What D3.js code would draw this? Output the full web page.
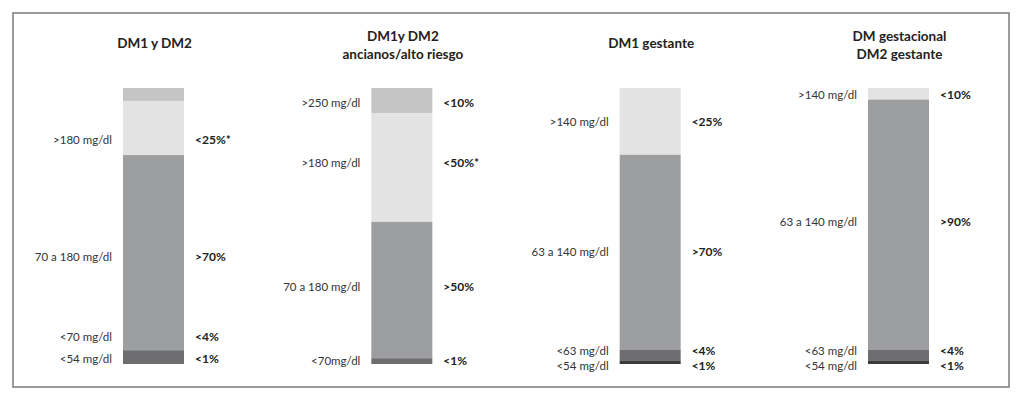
<!DOCTYPE html>
<html><head><meta charset="utf-8">
<script src="https://cdn.jsdelivr.net/npm/d3@7"></script>
<style>
html,body{margin:0;padding:0;background:#fff;}
svg{display:block;}
</style>
</head><body>
<svg id="c" width="1024" height="400"></svg>
<script>
// ---- data ----
const panelTitles = [
  ["DM1 y DM2"],
  ["DM1y DM2", "ancianos/alto riesgo"],
  ["DM1 gestante"],
  ["DM gestacional", "DM2 gestante"]
];
const segmentBands = [
  ["muyAlto", "alto", "rango", "bajo"],
  ["muyAlto", "alto", "rango", "bajo"],
  ["alto", "rango", "bajo", "muyBajo"],
  ["alto", "rango", "bajo", "muyBajo"]
];
const segmentValues = [
  [4.7, 19.6, 70.7, 5.0],
  [9.2, 39.3, 49.4, 2.1],
  [24.2, 70.7, 3.8, 1.3],
  [4.2, 90.7, 3.8, 1.3]
];
const leftLabels = [
  [">180 mg/dl", "70 a 180 mg/dl", "<70 mg/dl", "<54 mg/dl"],
  [">250 mg/dl", ">180 mg/dl", "70 a 180 mg/dl", "<70mg/dl"],
  [">140 mg/dl", "63 a 140 mg/dl", "<63 mg/dl", "<54 mg/dl"],
  [">140 mg/dl", "63 a 140 mg/dl", "<63 mg/dl", "<54 mg/dl"]
];
const rightLabels = [
  ["<25%*", ">70%", "<4%", "<1%"],
  ["<10%", "<50%*", ">50%", "<1%"],
  ["<25%", ">70%", "<4%", "<1%"],
  ["<10%", ">90%", "<4%", "<1%"]
];
// where each label row sits on the bar's 0-100 % scale
const labelPct = [
  [18.8, 61.2, 90.2, 98.2],
  [5.4, 27.2, 72.1, 98.9],
  [12.3, 59.4, 95.3, 100.7],
  [2.5, 48.6, 95.3, 100.7]
];
const bandNames = ["muyAlto", "alto", "rango", "bajo", "muyBajo"];
const bandColors = ["#c5c5c6", "#e3e3e3", "#9d9ea0", "#6e6e70", "#3b3b3d"];

// ---- drawing ----
const svg = d3.select("#c");
const font = "Lato, 'Open Sans', sans-serif";

svg.append("rect")
  .attr("x", 13).attr("y", 13).attr("width", 996).attr("height", 374)
  .attr("fill", "none").attr("stroke", "#7a7a7a").attr("stroke-width", 1.5);

const idx = d3.range(panelTitles.length);
const x = d3.scalePoint().domain(idx).range([153.5, 898.5]);
const y = d3.scaleLinear().domain([0, 100]).range([88, 364]);
const color = d3.scaleOrdinal().domain(bandNames).range(bandColors);
const barW = 61;

idx.forEach(i => {
  const cx = x(i);
  const g = svg.append("g");
  // title
  const lines = panelTitles[i];
  const t = g.append("text")
    .attr("x", cx + 1)
    .attr("text-anchor", "middle")
    .attr("font-family", font).attr("font-weight", "bold")
    .attr("font-size", 13.5).attr("fill", "#222");
  lines.forEach((ln, k) => {
    const yy = lines.length === 1 ? 43 : 36 + k * 18;
    t.append("tspan").attr("x", cx + 1).attr("y", yy).attr("dy", "0.35em").text(ln);
  });
  // stacked segments
  const ends = d3.cumsum(segmentValues[i]);
  const segs = segmentValues[i].map((v, k) => ({
    band: segmentBands[i][k], y0: ends[k] - v, y1: ends[k]
  }));
  g.selectAll("rect.seg").data(segs).join("rect")
    .attr("class", "seg")
    .attr("x", cx - barW / 2).attr("width", barW)
    .attr("y", d => y(d.y0))
    .attr("height", d => y(d.y1) - y(d.y0))
    .attr("fill", d => color(d.band));
  // labels
  const rows = labelPct[i].map((p, k) => ({p, l: leftLabels[i][k], r: rightLabels[i][k]}));
  g.selectAll("text.l").data(rows).join("text")
    .attr("class", "l")
    .attr("x", cx - barW / 2 - 11).attr("y", d => y(d.p)).attr("dy", "0.35em")
    .attr("text-anchor", "end")
    .attr("font-family", font).attr("font-size", 11.5).attr("fill", "#333")
    .text(d => d.l);
  g.selectAll("text.r").data(rows).join("text")
    .attr("class", "r")
    .attr("x", cx + barW / 2 + 11).attr("y", d => y(d.p)).attr("dy", "0.35em")
    .attr("text-anchor", "start")
    .attr("font-family", font).attr("font-weight", "bold")
    .attr("font-size", 12).attr("fill", "#222")
    .text(d => d.r);
});
</script>
</body></html>
